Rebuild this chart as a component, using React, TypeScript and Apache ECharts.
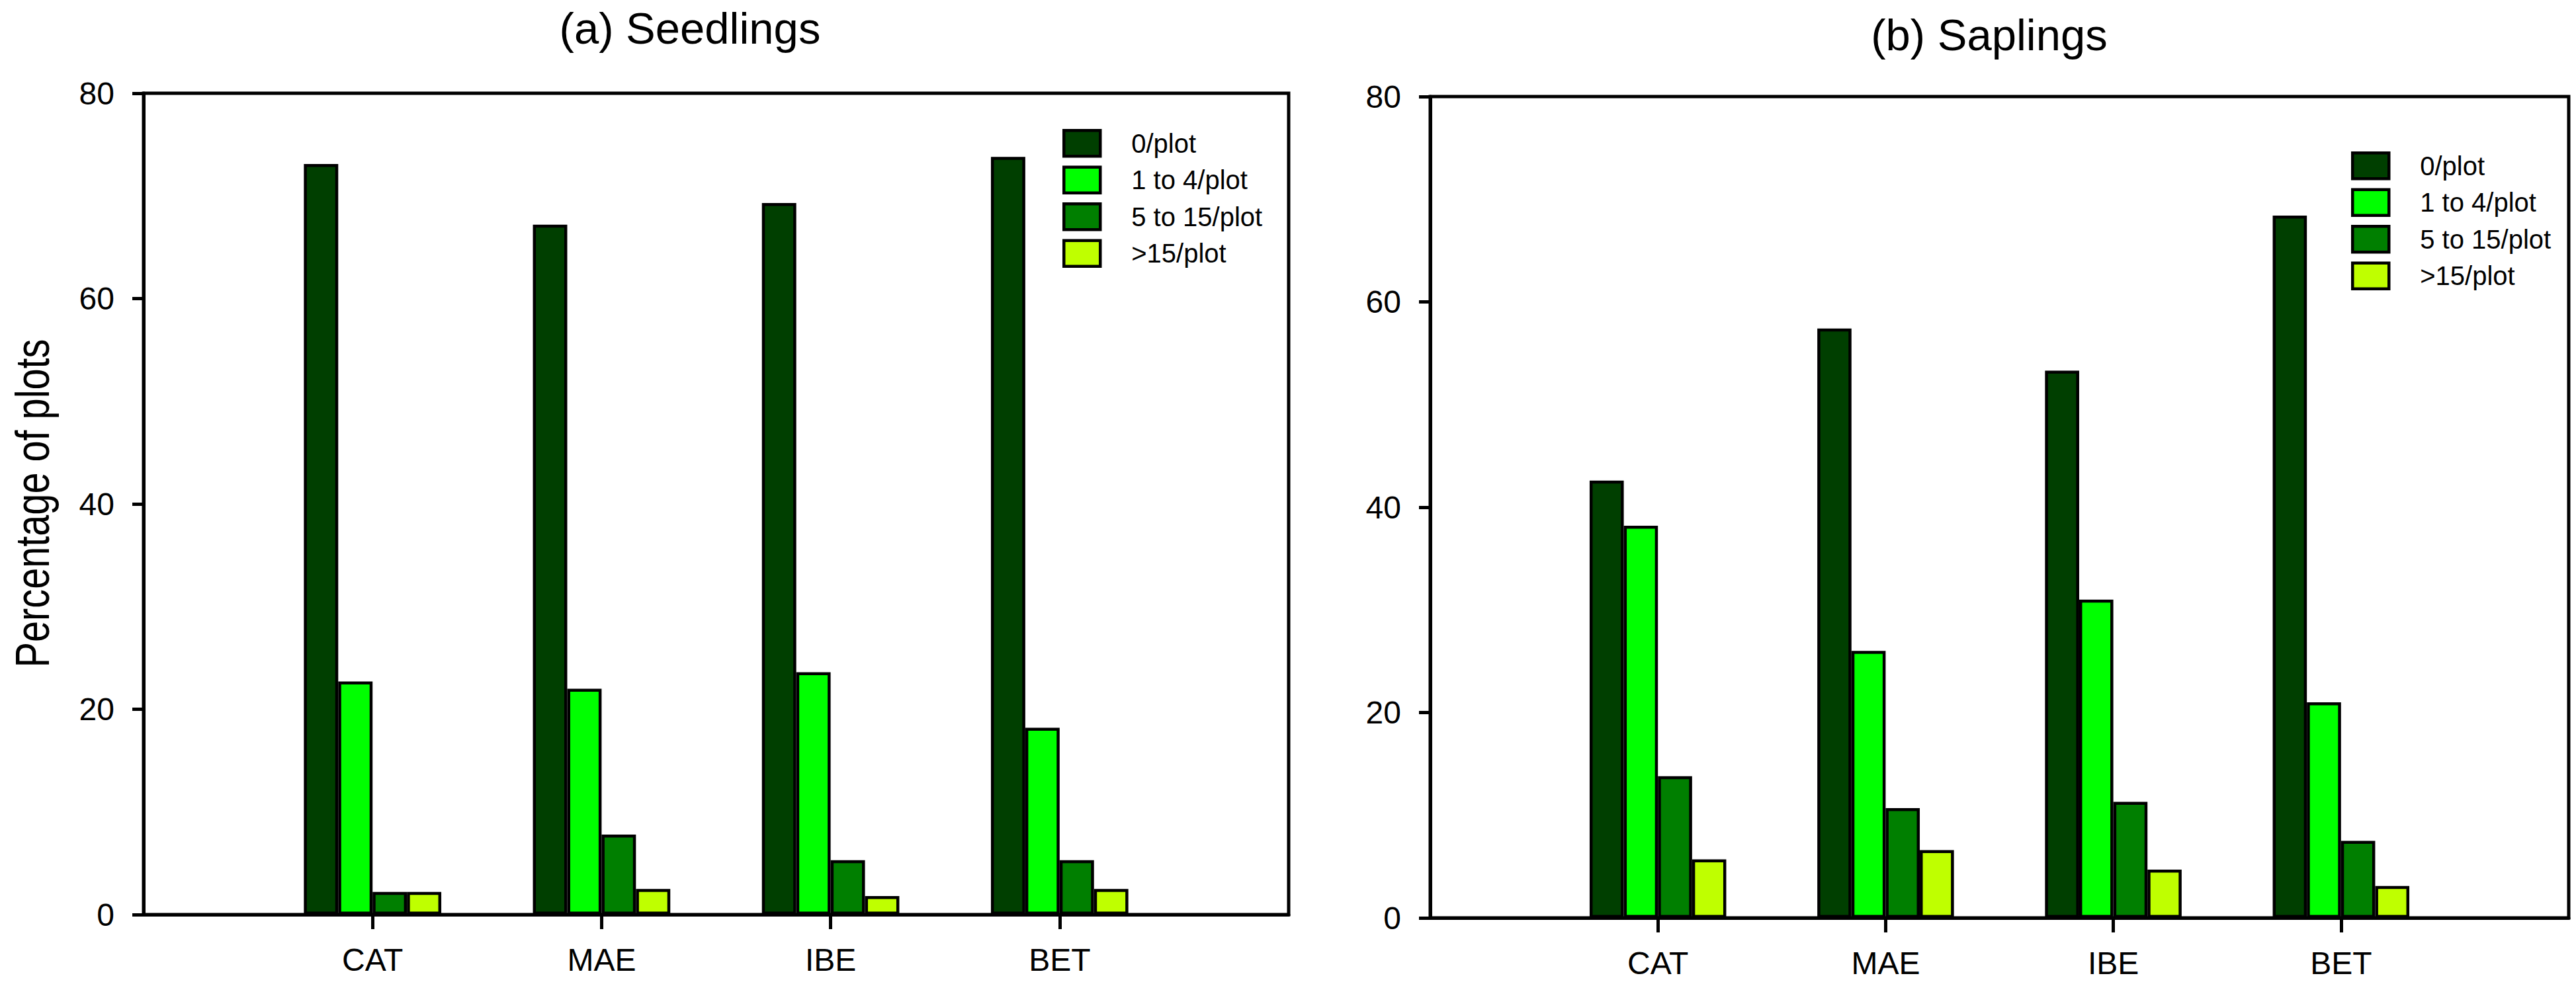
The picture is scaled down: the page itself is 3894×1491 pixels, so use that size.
import React, { useEffect, useRef } from 'react';
import * as echarts from 'echarts';

const categories = ['CAT', 'MAE', 'IBE', 'BET'];
const seriesNames = ['0/plot', '1 to 4/plot', '5 to 15/plot', '>15/plot'];
const seriesColors = ['#003f00', '#00ff00', '#007f00', '#bfff00'];
const yTickMin = 0;
const yTickMax = 80;
const yTickStep = 20;

const seedlingsZero = [73.1, 67.2, 69.3, 73.8];
const seedlingsOneToFour = [22.7, 22.0, 23.6, 18.2];
const seedlingsFiveToFifteen = [2.2, 7.8, 5.3, 5.3];
const seedlingsOverFifteen = [2.2, 2.5, 1.8, 2.5];

const saplingsZero = [42.6, 57.4, 53.3, 68.4];
const saplingsOneToFour = [38.2, 26.0, 31.0, 21.0];
const saplingsFiveToFifteen = [13.8, 10.7, 11.3, 7.5];
const saplingsOverFifteen = [5.7, 6.6, 4.7, 3.1];

const panelTitles = ['(a) Seedlings', '(b) Saplings'];
const yAxisTitle = 'Percentage of plots';

const FONT = "'Liberation Sans', Arial, Helvetica, sans-serif";

export default function App() {
  const ref = useRef<HTMLDivElement | null>(null);

  useEffect(() => {
    if (!ref.current) return;
    const chart = echarts.init(ref.current, null, { renderer: 'svg' });

    const panels = [
      [seedlingsZero, seedlingsOneToFour, seedlingsFiveToFifteen, seedlingsOverFifteen],
      [saplingsZero, saplingsOneToFour, saplingsFiveToFifteen, saplingsOverFifteen],
    ];
    const xData = ['', ...categories, ''];

    const grids = [
      { left: 217, top: 141, width: 1731, height: 1242 },
      { left: 2162, top: 146, width: 1721, height: 1242 },
    ].map((g) => ({
      ...g,
      show: true,
      borderColor: '#000',
      borderWidth: 5,
      backgroundColor: 'transparent',
      containLabel: false,
      outerBoundsMode: 'none',
    }));

    const xAxes = [0, 1].map((i) => ({
      type: 'category',
      gridIndex: i,
      data: xData,
      boundaryGap: false,
      axisLine: { show: true, onZero: false, lineStyle: { color: '#000', width: 5 } },
      axisTick: {
        show: true,
        length: 22,
        interval: (idx: number) => idx >= 1 && idx <= categories.length,
        lineStyle: { color: '#000', width: 5 },
      },
      axisLabel: { interval: 0, fontSize: 48, color: '#000', fontFamily: FONT, margin: 44 },
      splitLine: { show: false },
    }));

    const yAxes = [0, 1].map((i) => ({
      type: 'value',
      gridIndex: i,
      min: yTickMin,
      max: yTickMax,
      interval: yTickStep,
      axisLine: { show: true, lineStyle: { color: '#000', width: 5 } },
      axisTick: { show: true, length: 17, lineStyle: { color: '#000', width: 5 } },
      axisLabel: { fontSize: 48, color: '#000', fontFamily: FONT, margin: 44 },
      splitLine: { show: false },
    }));

    const series: any[] = [];
    panels.forEach((panel, p) => {
      panel.forEach((vals, s) => {
        series.push({
          type: 'bar',
          name: seriesNames[s],
          xAxisIndex: p,
          yAxisIndex: p,
          data: ['-', ...vals, '-'],
          barGap: '0%',
          barCategoryGap: '40%',
          itemStyle: { color: seriesColors[s], borderColor: '#000', borderWidth: 4.5 },
          emphasis: { disabled: true },
        });
      });
    });

    const legendCommon = {
      orient: 'vertical',
      data: seriesNames,
      icon: 'rect',
      itemWidth: 55,
      itemHeight: 39,
      itemGap: 12,
      selectedMode: false,
      padding: 0,
      itemStyle: { borderColor: '#000', borderWidth: 4.5 },
      textStyle: {
        fontSize: 40,
        lineHeight: 39,
        color: '#000',
        fontFamily: FONT,
        padding: [0, 0, 0, 42],
      },
    };

    chart.setOption({
      animation: false,
      backgroundColor: '#fff',
      grid: grids,
      xAxis: xAxes,
      yAxis: yAxes,
      legend: [
        { ...legendCommon, left: 1606, top: 195 },
        { ...legendCommon, left: 3554, top: 229 },
      ],
      series,
      graphic: [
        {
          type: 'text',
          x: 1043,
          y: 42,
          style: {
            text: panelTitles[0],
            fontSize: 67,
            fontFamily: FONT,
            fill: '#000',
            align: 'center',
            verticalAlign: 'middle',
            textAlign: 'center',
            textVerticalAlign: 'middle',
          },
        },
        {
          type: 'text',
          x: 3007,
          y: 52,
          style: {
            text: panelTitles[1],
            fontSize: 67,
            fontFamily: FONT,
            fill: '#000',
            align: 'center',
            verticalAlign: 'middle',
            textAlign: 'center',
            textVerticalAlign: 'middle',
          },
        },
        {
          type: 'text',
          x: 48,
          y: 761,
          rotation: Math.PI / 2,
          scaleX: 0.79,
          style: {
            text: yAxisTitle,
            fontSize: 73,
            fontFamily: FONT,
            fill: '#000',
            align: 'center',
            verticalAlign: 'middle',
            textAlign: 'center',
            textVerticalAlign: 'middle',
          },
        },
      ],
    });

    return () => {
      chart.dispose();
    };
  }, []);

  return (
    <div
      ref={ref}
      style={{ position: 'fixed', left: 0, top: 0, width: 3894, height: 1491 }}
    />
  );
}
